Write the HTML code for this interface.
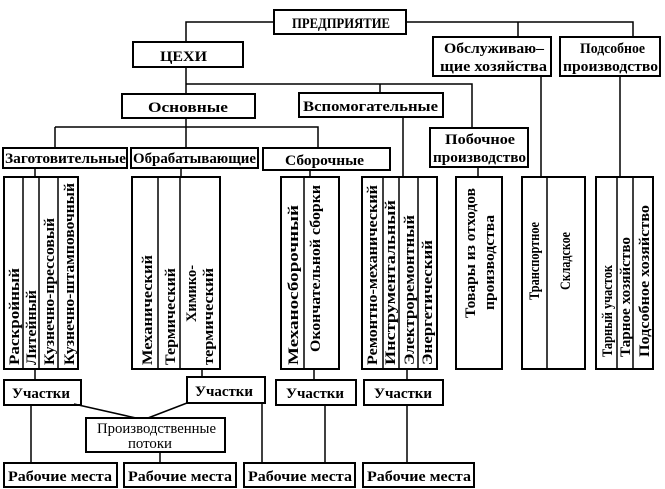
<!DOCTYPE html>
<html><head><meta charset="utf-8"><style>
html,body{margin:0;padding:0;background:#fff;}
svg{display:block;}
text{font-family:"Liberation Serif",serif;font-weight:bold;font-size:15px;fill:#000;}
</style></head><body>
<svg width="665" height="489" viewBox="0 0 665 489" xmlns="http://www.w3.org/2000/svg">
<g fill="#fff" stroke="#000" stroke-width="2">
<rect x="274" y="10" width="132" height="24"/>
<rect x="133" y="42" width="110" height="25"/>
<rect x="433" y="37" width="118" height="39"/>
<rect x="560" y="37" width="100" height="39"/>
<rect x="122" y="94" width="133" height="24"/>
<rect x="299" y="93" width="144" height="24"/>
<rect x="430" y="128" width="98" height="39"/>
<rect x="3" y="148" width="124" height="20"/>
<rect x="131" y="148" width="127" height="20"/>
<rect x="263" y="148" width="127" height="22"/>
<rect x="4" y="177" width="74" height="192"/>
<rect x="132" y="177" width="88" height="192"/>
<rect x="281" y="177" width="58" height="192"/>
<rect x="362" y="177" width="75" height="192"/>
<rect x="456" y="177" width="46" height="192"/>
<rect x="522" y="177" width="63" height="192"/>
<rect x="596" y="177" width="57" height="192"/>
<rect x="4" y="380" width="77" height="25"/>
<rect x="187" y="377" width="78" height="26"/>
<rect x="276" y="380" width="80" height="25"/>
<rect x="364" y="380" width="79" height="25"/>
<rect x="86" y="418" width="139" height="34"/>
<rect x="4" y="463" width="113" height="24"/>
<rect x="124" y="463" width="112" height="24"/>
<rect x="244" y="463" width="111" height="24"/>
<rect x="363" y="463" width="111" height="24"/>
</g>
<g stroke="#000" stroke-width="1.5" fill="none">
<path d="M274 22H186V42M406 22H633V37M518 22V37"/>
<path d="M186 67V84H472V128M186 84V94M380 84V93"/>
<path d="M186 118V127H318V148M55 127H186M55 127V148M186 127V148"/>
<path d="M403 117V177M478 167V177M541 76V177M620 76V177"/>
<path d="M35 168V177M181 168V177M310 170V177"/>
<path d="M23 177V369M39 177V369M58 177V369M158 177V369M180 177V369M304 177V369M383 177V369M399 177V369M418 177V369M547 177V369M617 177V369M633 177V369"/>
<path d="M35 369V380M202 369V377M314 369V380M407 369V380"/>
<path d="M31 405V463M74 404L136 418M187 403L148 418M160 452V463M262 403V463M325 405V463M407 405V463"/>
</g>
<g lengthAdjust="spacingAndGlyphs">
<text x="292" y="28" textLength="98" lengthAdjust="spacingAndGlyphs">ПРЕДПРИЯТИЕ</text>
<text x="160" y="61" textLength="47" lengthAdjust="spacingAndGlyphs">ЦЕХИ</text>
<text x="444" y="53" textLength="100" lengthAdjust="spacingAndGlyphs">Обслуживаю–</text>
<text x="440" y="71" textLength="107" lengthAdjust="spacingAndGlyphs">щие хозяйства</text>
<text x="580" y="53" textLength="65" lengthAdjust="spacingAndGlyphs">Подсобное</text>
<text x="563" y="71" textLength="95" lengthAdjust="spacingAndGlyphs">производство</text>
<text x="148" y="112" textLength="80" lengthAdjust="spacingAndGlyphs">Основные</text>
<text x="303" y="111" textLength="135" lengthAdjust="spacingAndGlyphs">Вспомогательные</text>
<text x="445" y="144" textLength="70" lengthAdjust="spacingAndGlyphs">Побочное</text>
<text x="433" y="162" textLength="93" lengthAdjust="spacingAndGlyphs">производство</text>
<text x="5" y="163" textLength="121" lengthAdjust="spacingAndGlyphs">Заготовительные</text>
<text x="133" y="163" textLength="123" lengthAdjust="spacingAndGlyphs">Обрабатывающие</text>
<text x="285" y="165" textLength="79" lengthAdjust="spacingAndGlyphs">Сборочные</text>

<text transform="translate(19,365) rotate(-90)" textLength="97" lengthAdjust="spacingAndGlyphs">Раскройный</text>
<text transform="translate(36,365) rotate(-90)" textLength="75" lengthAdjust="spacingAndGlyphs">Литейный</text>
<text transform="translate(54,365) rotate(-90)" textLength="147" lengthAdjust="spacingAndGlyphs">Кузнечно-прессовый</text>
<text transform="translate(74,365) rotate(-90)" textLength="182" lengthAdjust="spacingAndGlyphs">Кузнечно-штамповочный</text>
<text transform="translate(152,365) rotate(-90)" textLength="110" lengthAdjust="spacingAndGlyphs">Механический</text>
<text transform="translate(175,365) rotate(-90)" textLength="97" lengthAdjust="spacingAndGlyphs">Термический</text>
<text transform="translate(196,322) rotate(-90)" textLength="57" lengthAdjust="spacingAndGlyphs">Химико-</text>
<text transform="translate(213,365) rotate(-90)" textLength="97" lengthAdjust="spacingAndGlyphs">термический</text>
<text transform="translate(298,365) rotate(-90)" textLength="160" lengthAdjust="spacingAndGlyphs">Механосборочный</text>
<text transform="translate(320,352) rotate(-90)" textLength="167" lengthAdjust="spacingAndGlyphs">Окончательной  сборки</text>
<text transform="translate(377,365) rotate(-90)" textLength="180" lengthAdjust="spacingAndGlyphs">Ремонтно-механический</text>
<text transform="translate(395,365) rotate(-90)" textLength="165" lengthAdjust="spacingAndGlyphs">Инструментальный</text>
<text transform="translate(414,365) rotate(-90)" textLength="150" lengthAdjust="spacingAndGlyphs">Электроремонтный</text>
<text transform="translate(432,365) rotate(-90)" textLength="125" lengthAdjust="spacingAndGlyphs">Энергетический</text>
<text transform="translate(475,318) rotate(-90)" textLength="130" lengthAdjust="spacingAndGlyphs">Товары из отходов</text>
<text transform="translate(494,310) rotate(-90)" textLength="95" lengthAdjust="spacingAndGlyphs">производства</text>
<text transform="translate(539,300) rotate(-90)" textLength="78" lengthAdjust="spacingAndGlyphs">Транспортное</text>
<text transform="translate(570,290) rotate(-90)" textLength="58" lengthAdjust="spacingAndGlyphs">Складское</text>
<text transform="translate(612,357) rotate(-90)" textLength="92" lengthAdjust="spacingAndGlyphs">Тарный участок</text>
<text transform="translate(630,357) rotate(-90)" textLength="120" lengthAdjust="spacingAndGlyphs">Тарное хозяйство</text>
<text transform="translate(649,357) rotate(-90)" textLength="152" lengthAdjust="spacingAndGlyphs">Подсобное хозяйство</text>

<text x="12" y="398" textLength="58" lengthAdjust="spacingAndGlyphs">Участки</text>
<text x="195" y="396" textLength="58" lengthAdjust="spacingAndGlyphs">Участки</text>
<text x="286" y="398" textLength="58" lengthAdjust="spacingAndGlyphs">Участки</text>
<text x="374" y="398" textLength="58" lengthAdjust="spacingAndGlyphs">Участки</text>
<text x="97" y="433" textLength="119" lengthAdjust="spacingAndGlyphs" style="font-weight:normal">Производственные</text>
<text x="128" y="448" textLength="44" lengthAdjust="spacingAndGlyphs" style="font-weight:normal">потоки</text>
<text x="8" y="481" textLength="104" lengthAdjust="spacingAndGlyphs">Рабочие места</text>
<text x="128" y="481" textLength="104" lengthAdjust="spacingAndGlyphs">Рабочие места</text>
<text x="248" y="481" textLength="104" lengthAdjust="spacingAndGlyphs">Рабочие места</text>
<text x="367" y="481" textLength="104" lengthAdjust="spacingAndGlyphs">Рабочие места</text>
</g>
</svg>
</body></html>
